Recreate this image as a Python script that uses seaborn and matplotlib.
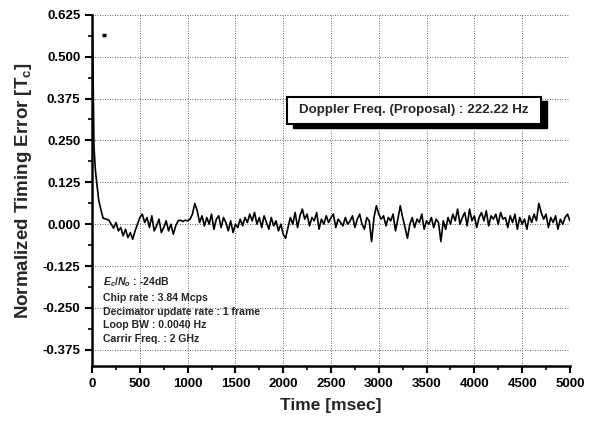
"""Normalized timing error vs time (Doppler proposal) - seaborn recreation."""
import matplotlib
matplotlib.use("Agg")
import matplotlib.pyplot as plt
import matplotlib.patches as mpatches
import numpy as np
import pandas as pd
import seaborn as sns

# -- Data ----------------------------------------------------------------------
# initial pull-in transient (msec, [Tc])
t_init = [0, 10, 20, 35, 50, 70, 95, 115, 150]
err_init = [0.625, 0.45, 0.23, 0.16, 0.12, 0.07, 0.04, 0.018, 0.015]

# tracking phase, sampled every 25 msec from 175 to 5000
t_track = list(range(175, 5001, 25))
err_track = [
    0.012, 0.0, -0.012, 0.005, -0.02, -0.01, -0.035, -0.015, -0.04, -0.025, -0.045, -0.02, 0.0, 0.02,
    0.03, 0.005, 0.02, -0.01, 0.025, -0.02, -0.005, 0.015, -0.025, -0.01, 0.01, -0.02, 0.0, -0.03, -0.005, 0.01, 0.012, 0.008, 0.012, 0.01,
    0.015, 0.03, 0.062, 0.04, 0.005, 0.025, -0.005, 0.02, 0.0, 0.03, -0.015, 0.015, 0.025, -0.01, 0.02, 0.005, -0.02, 0.01, -0.025, 0.0,
    -0.01, 0.015, -0.005, 0.02, 0.005, 0.03, 0.01, 0.035, 0.0, 0.02, -0.01, 0.025, 0.005, -0.015, 0.02, -0.005, 0.01, -0.02, 0.0, -0.03,
    -0.042, -0.01, 0.02, 0.0, 0.035, -0.01, 0.025, 0.045, 0.015, 0.03, -0.005, 0.02, 0.01, 0.035, -0.015, 0.015, 0.0, 0.025, 0.005, 0.02,
    0.03, -0.01, 0.015, 0.005, -0.005, 0.02, 0.0, 0.01, 0.025, -0.01, 0.015, 0.03, 0.0, -0.015, 0.02, 0.01, -0.052, 0.02, 0.055, 0.03,
    0.015, 0.025, -0.005, 0.02, 0.01, 0.03, -0.02, 0.015, 0.055, 0.02, -0.01, -0.042, 0.0, 0.02, -0.01, 0.015, 0.005, 0.03, -0.015, 0.01,
    0.0, 0.02, -0.01, 0.015, 0.005, -0.052, 0.01, -0.015, 0.02, 0.0, 0.03, 0.01, 0.045, 0.0, 0.02, 0.035, -0.005, 0.045, 0.01, 0.025,
    -0.01, 0.02, 0.035, 0.01, 0.04, -0.005, 0.025, 0.015, 0.03, 0.0, 0.035, 0.015, 0.02, -0.01, 0.025, 0.005, 0.03, -0.015, 0.02, 0.0,
    0.015, -0.015, 0.025, 0.005, 0.03, 0.01, 0.062, 0.035, 0.015, 0.03, -0.01, 0.02, 0.005, 0.025, -0.015, 0.015, 0.0, 0.02, 0.03, 0.01,
]

# stray legend dash near the top-left corner
dash_t = [100, 150]
dash_err = [0.565, 0.565]

x_ticks = list(range(0, 5001, 500))
y_ticks = [-0.375, -0.250, -0.125, 0.000, 0.125, 0.250, 0.375, 0.500, 0.625]

box_label = "Doppler Freq. (Proposal) : 222.22 Hz"
param_lines = [
    r"$\mathit{E_c/N_o}$ : -24dB",
    "Chip rate : 3.84 Mcps",
    "Decimator update rate : 1 frame",
    "Loop BW : 0.0040 Hz",
    "Carrir Freq. : 2 GHz",
]

# -- Style ---------------------------------------------------------------------
sns.set_theme(style="ticks")
plt.rcParams["font.family"] = ["Liberation Sans", "DejaVu Sans"]
plt.rcParams["font.weight"] = "bold"
plt.rcParams["mathtext.fontset"] = "custom"
plt.rcParams["mathtext.bf"] = "Liberation Sans:bold"
plt.rcParams["mathtext.it"] = "Liberation Sans:bold:italic"
plt.rcParams["mathtext.rm"] = "Liberation Sans:bold"

df = pd.DataFrame({
    "t": t_init + t_track,
    "err": err_init + err_track,
})

fig = plt.figure(figsize=(5.98, 4.23), dpi=100)
ax = fig.add_axes([0.154, 0.135, 0.799, 0.830])

sns.lineplot(data=df, x="t", y="err", color="black", linewidth=1.2, ax=ax, sort=False)
ax.plot(dash_t, dash_err, color="black", linewidth=2.5, solid_capstyle="butt")

ax.set_xlim(0, 5000)
ax.set_ylim(-0.423, 0.625)
ax.set_xticks(x_ticks)
ax.set_yticks(y_ticks)
ax.set_yticklabels([f"{v:.3f}" for v in y_ticks])
ax.set_xticks(np.arange(250, 5000, 500), minor=True)
ax.set_yticks(np.arange(-0.3125, 0.625, 0.125), minor=True)

ax.grid(True, which="major", linestyle=(0, (1, 2)), color="#333333", linewidth=0.6)
for side in ("top", "right"):
    ax.spines[side].set_visible(False)
for side in ("left", "bottom"):
    ax.spines[side].set_linewidth(1.8)
    ax.spines[side].set_color("black")

ax.tick_params(which="major", direction="out", length=5, width=1.5, labelsize=9.5, colors="black")
ax.tick_params(which="minor", direction="out", length=3, width=1.2, colors="black")
for lbl in ax.get_xticklabels() + ax.get_yticklabels():
    lbl.set_fontweight("bold")

ax.set_xlabel("Time [msec]", fontsize=12.5, fontweight="bold", labelpad=6)
ax.set_ylabel(r"Normalized Timing Error [T$_\mathbf{c}$]", fontsize=13.5, fontweight="bold", labelpad=6)

# boxed annotation with drop shadow (axes fraction)
ax.add_patch(mpatches.Rectangle((0.4206, 0.6776), 0.531, 0.077, transform=ax.transAxes,
                                facecolor="black", edgecolor="black", zorder=4))
ax.add_patch(mpatches.Rectangle((0.408, 0.689), 0.531, 0.077, transform=ax.transAxes,
                                facecolor="white", edgecolor="black", linewidth=1.5, zorder=5))
ax.text(0.674, 0.7275, box_label, transform=ax.transAxes, ha="center", va="center",
        fontsize=9.6, fontweight="bold", zorder=6)

ax.text(110, -0.152, "\n".join(param_lines), ha="left", va="top", fontsize=7.6,
        fontweight="bold", linespacing=1.48)

fig.savefig("out.png", dpi=100)
plt.close(fig)
